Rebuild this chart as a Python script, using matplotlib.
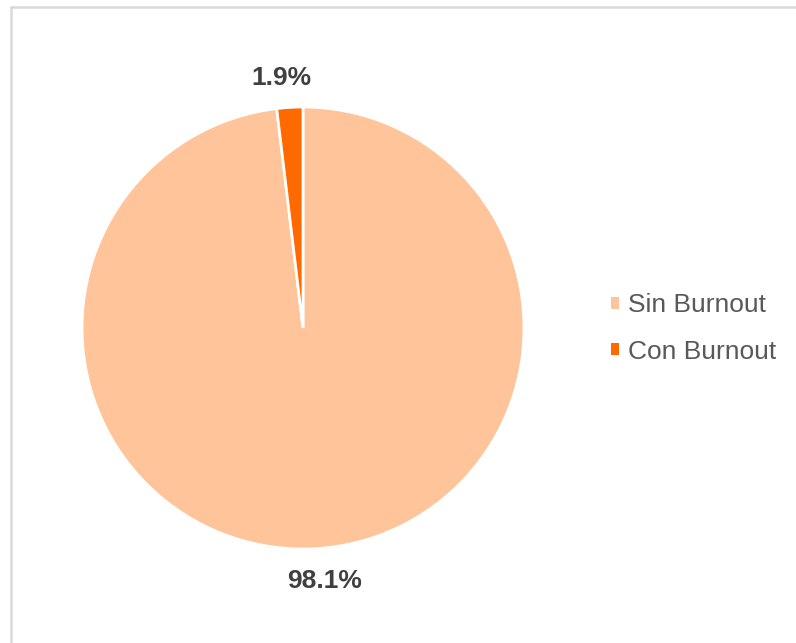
import matplotlib.pyplot as plt
from matplotlib.patches import Rectangle

plt.rcParams['font.family'] = ['Liberation Sans', 'DejaVu Sans']

# data
labels = ["Sin Burnout", "Con Burnout"]
values = [98.1, 1.9]
colors = ["#FFC499", "#FF6A00"]

fig = plt.figure(figsize=(7.96, 6.43), dpi=100)

# light grey frame (chart area border)
fig.add_artist(Rectangle((11 / 796, -0.1), 2, 1 - 7 / 643 + 0.1,
                         transform=fig.transFigure, fill=False,
                         edgecolor="#D9D9D9", linewidth=1.8))

ax = fig.add_axes([0.103, 0.1462, 0.5553, 0.6874])
wedges, texts, autotexts = ax.pie(
    values, colors=colors, startangle=90, counterclock=False,
    autopct='%1.1f%%', pctdistance=1.145,
    wedgeprops=dict(edgecolor="white", linewidth=2),
    textprops=dict(fontsize=19, fontweight="bold", color="#404040"))
ax.set_xlim(-1, 1)
ax.set_ylim(-1, 1)
ax.set_aspect("equal")
ax.axis("off")

# nudge the percentage labels a little, like Excel's "outside end"
x, y = autotexts[0].get_position()
autotexts[0].set_position((x + 0.03, y))
x, y = autotexts[1].get_position()
autotexts[1].set_position((x - 0.03, y - 0.01))

leg = fig.legend(wedges, labels, loc="center left", bbox_to_anchor=(0.7676, 0.489),
                 frameon=False, fontsize=19, labelcolor="#595959",
                 handlelength=0.3, handleheight=0.3, handletextpad=0.35,
                 labelspacing=0.85, borderpad=0, borderaxespad=0)
for h in leg.legend_handles:
    h.set_linewidth(0)

plt.savefig("out.png", dpi=100)
